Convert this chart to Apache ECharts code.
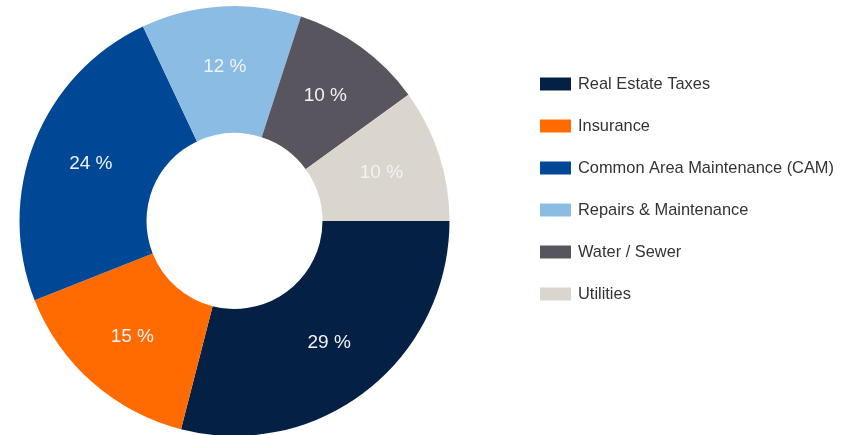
<!DOCTYPE html>
<html>
<head>
<meta charset="utf-8">
<script src="https://cdn.jsdelivr.net/npm/echarts@6/dist/echarts.min.js"></script>
<style>
  html, body { margin: 0; padding: 0; background: #ffffff; }
  #chart { width: 853px; height: 435px; }
</style>
</head>
<body>
<div id="chart"></div>
<script>
// Operating expense breakdown (percent of total)
const categories = [
  'Real Estate Taxes',
  'Insurance',
  'Common Area Maintenance (CAM)',
  'Repairs & Maintenance',
  'Water / Sewer',
  'Utilities'
];
const shares = [29, 15, 24, 12, 10, 10];
const colors = ['#042045', '#ff6b00', '#004795', '#8bbce4', '#59555e', '#dbd6cd'];

const chart = echarts.init(document.getElementById('chart'), null, { renderer: 'canvas' });

chart.setOption({
  animation: false,
  color: colors,
  legend: {
    orient: 'vertical',
    left: 535,
    top: 71,
    itemWidth: 31,
    itemHeight: 13,
    itemGap: 26,
    icon: 'rect',
    textStyle: {
      fontFamily: 'Liberation Sans, Arial, sans-serif',
      fontSize: 16.4,
      color: '#333333',
      padding: [0, 0, 0, 2]
    },
    data: categories
  },
  series: [{
    type: 'pie',
    center: [234.5, 221],
    radius: [88, 215],
    startAngle: 0,
    clockwise: true,
    avoidLabelOverlap: false,
    label: {
      show: true,
      position: 'inside',
      formatter: p => p.value + ' %',
      fontFamily: 'Liberation Sans, Arial, sans-serif',
      fontSize: 19,
      color: '#f2f2f2'
    },
    labelLine: { show: false },
    emphasis: { disabled: true },
    itemStyle: { borderWidth: 0 },
    data: categories.map((name, i) => ({ name, value: shares[i] }))
  }]
});
</script>
</body>
</html>
